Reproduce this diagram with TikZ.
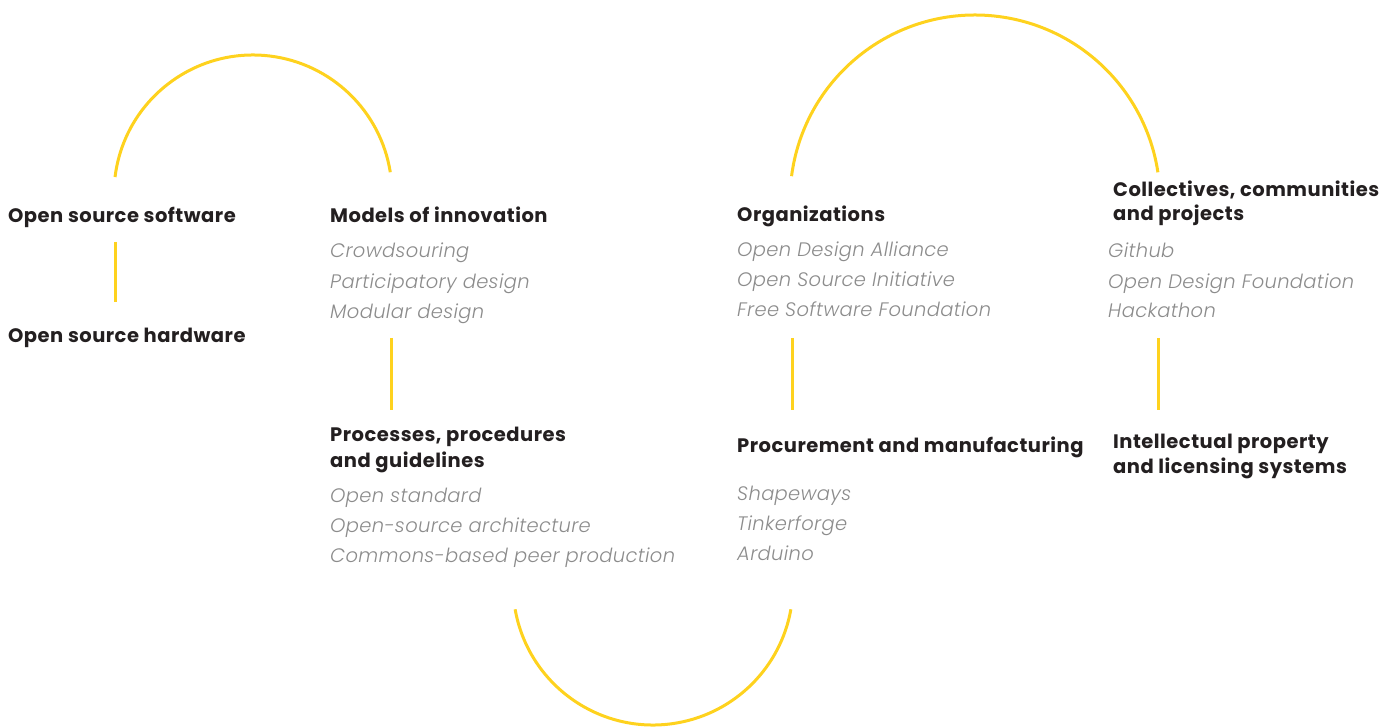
\documentclass[tikz,border=0pt]{standalone}
\usepackage{fontspec}
\IfFontExistsTF{Poppins Bold}{\newfontfamily\hdfont{Poppins Bold}[LetterSpace=2.5]}{\newfontfamily\hdbase{Poppins}[LetterSpace=2.5]\newcommand\hdfont{\hdbase\bfseries}}
\IfFontExistsTF{Poppins Light Italic}{\newfontfamily\itfont{Poppins Light Italic}[LetterSpace=1.7]}{\newfontfamily\itbase{Poppins}[LetterSpace=1.7]\newcommand\itfont{\itbase\itshape}}
\definecolor{gold}{RGB}{254,210,30}
\definecolor{ink}{RGB}{35,31,32}
\definecolor{greytext}{RGB}{140,140,140}
\begin{document}
\begin{tikzpicture}[x=1pt,y=1pt,
  hd/.style={anchor=base west, inner sep=0pt, text=ink, font=\hdfont\fontsize{19.5}{23}\selectfont},
  it/.style={anchor=base west, inner sep=0pt, text=greytext, font=\itfont\fontsize{19.5}{23}\selectfont},
  link/.style={draw=gold, line width=3pt}]
\useasboundingbox (0,0) rectangle (1396,726);
% column 1
\node[hd] (oss) at (8,503) {Open source software};
\node[hd] (osh) at (8,383) {Open source hardware};
% column 2
\node[hd] (moi) at (330,503) {Models of innovation};
\node[it] (crowd) at (330,468) {Crowdsouring};
\node[it] (part) at (330,437) {Participatory design};
\node[it] (mod) at (330,407) {Modular design};
\node[hd] (proca) at (330,284) {Processes, procedures};
\node[hd] (procb) at (330,259) {and guidelines};
\node[it] (ostd) at (330,224) {Open standard};
\node[it] (osa) at (330,194) {Open-source architecture};
\node[it] (cbpp) at (330,164) {Commons-based peer production};
% column 3
\node[hd] (org) at (737,504) {Organizations};
\node[it] (oda) at (737,469) {Open Design Alliance};
\node[it] (osi) at (737,439) {Open Source Initiative};
\node[it] (fsf) at (737,409) {Free Software Foundation};
\node[hd] (pm) at (737,274) {Procurement and manufacturing};
\node[it] (shp) at (737,226) {Shapeways};
\node[it] (tnk) at (737,196) {Tinkerforge};
\node[it] (ard) at (737,166) {Arduino};
% column 4
\node[hd] (cola) at (1113,529) {Collectives, communities};
\node[hd] (colb) at (1113,505) {and projects};
\node[it] (gh) at (1108,468) {Github};
\node[it] (odf) at (1108,437) {Open Design Foundation};
\node[it] (hack) at (1108,408) {Hackathon};
\node[hd] (ipa) at (1113,278) {Intellectual property};
\node[hd] (ipb) at (1113,253) {and licensing systems};
% connector end points
\coordinate (v1t) at (115,484); \coordinate (v1b) at (115,424);
\coordinate (v2t) at (391,388); \coordinate (v2b) at (391,316);
\coordinate (v3t) at (792,388); \coordinate (v3b) at (792,316);
\coordinate (v4t) at (1158,388); \coordinate (v4b) at (1158,316);
\coordinate (a1c) at (253,532);
\coordinate (a2c) at (653,141);
\coordinate (a3c) at (975,526);
% connectors
\draw[link] (v1t) -- (v1b);
\draw[link] (v2t) -- (v2b);
\draw[link] (v3t) -- (v3b);
\draw[link] (v4t) -- (v4b);
\draw[link] ([shift={(173:139)}]a1c) arc[start angle=173, end angle=9, radius=139];
\draw[link] ([shift={(190:140)}]a2c) arc[start angle=190, end angle=350, radius=140];
\draw[link] ([shift={(172.6:185)}]a3c) arc[start angle=172.6, end angle=8.6, radius=185];
\end{tikzpicture}
\end{document}
